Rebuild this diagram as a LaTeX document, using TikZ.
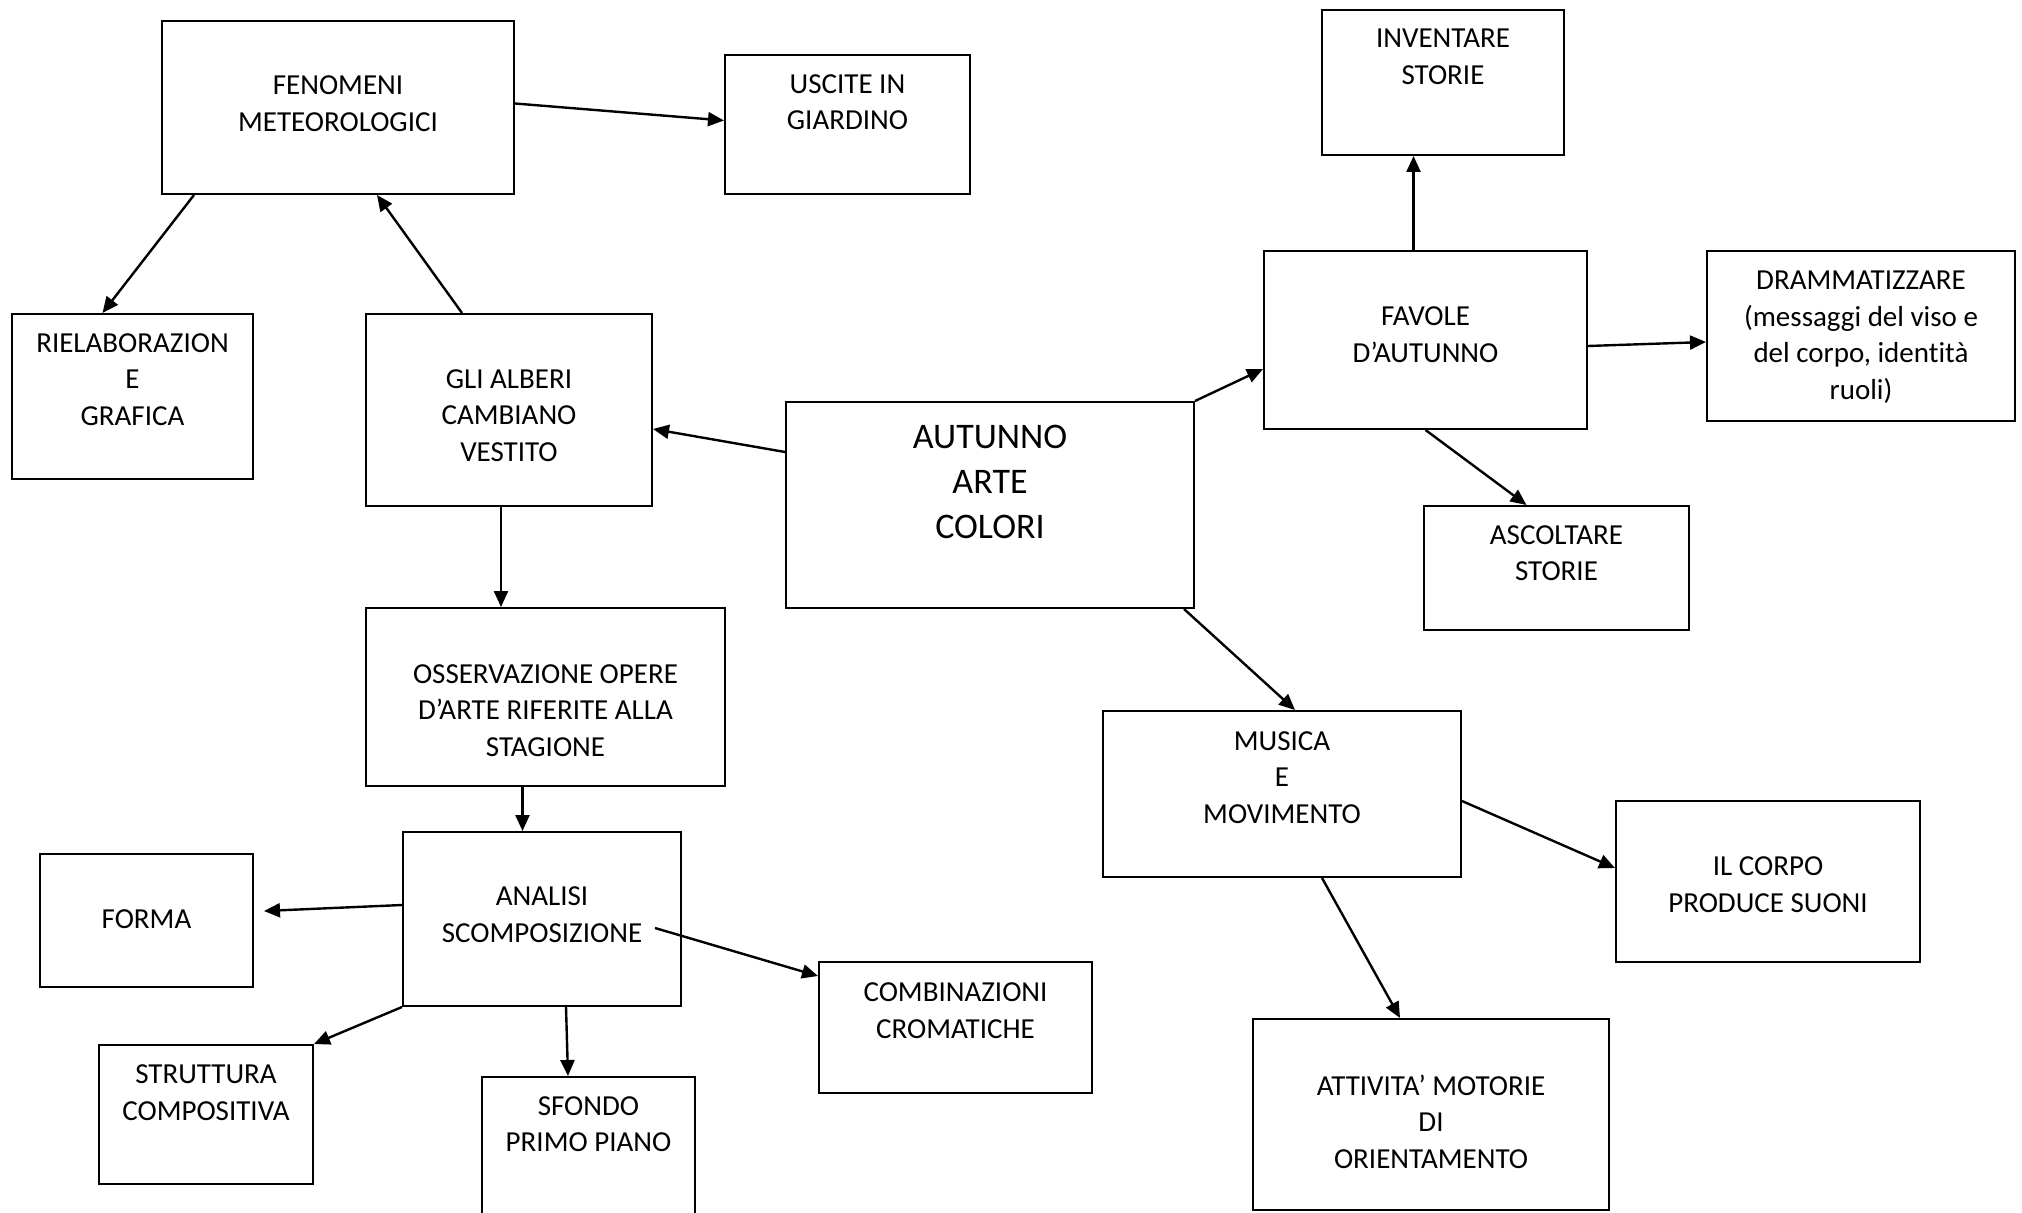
\documentclass[tikz,border=0pt]{standalone}
\usepackage{fontspec}
\setmainfont{Carlito}[Ligatures=NoCommon]
\usetikzlibrary{arrows.meta, positioning, fit}

\begin{document}
\begin{tikzpicture}[x=0.5pt, y=-0.5pt,
  box/.style={draw, line width=1pt, inner sep=0pt},
  txt/.style={align=center, inner sep=0pt, font=\fontsize{14.5}{18.25}\selectfont},
  arr/.style={-{Triangle[length=8pt, width=7pt]}, line width=1.2pt}]
\useasboundingbox[fill=white] (0,0) rectangle (2022,1213);

% Central topic
\node[box, fit={(786,402) (1194,608)}] (aut) {};
\node[txt, font=\fontsize{18}{22.5}\selectfont, below=12pt of aut.north] (autt) {AUTUNNO\\ARTE\\COLORI};

% Trees branch
\node[box, fit={(366,314) (652,506)}] (alb) {};
\node[txt, below=28pt of alb.north] (albt) {GLI ALBERI\\CAMBIANO\\VESTITO};
\node[box, fit={(162,21) (514,194)}] (fen) {};
\node[txt, below=27.8pt of fen.north] (fent) {FENOMENI\\METEOROLOGICI};
\node[box, fit={(725,55) (970,194)}] (usc) {};
\node[txt, below=10pt of usc.north] (usct) {USCITE IN\\GIARDINO};
\node[box, fit={(12,314) (253,479)}] (riel) {};
\node[txt, below=10pt of riel.north] (rielt) {RIELABORAZION\\E\\GRAFICA};

% Works of art
\node[box, fit={(366,608) (725,786)}] (oss) {};
\node[txt, below=28.5pt of oss.north] (osst) {OSSERVAZIONE OPERE\\D’ARTE RIFERITE ALLA\\STAGIONE};
\node[box, fit={(403,832) (681,1006)}] (ana) {};
\node[txt, below=27.8pt of ana.north] (anat) {ANALISI\\SCOMPOSIZIONE};
\node[box, fit={(40,854) (253,987)}] (forma) {};
\node[txt, below=28pt of forma.north] (format) {FORMA};
\node[box, fit={(99,1045) (313,1184)}] (strut) {};
\node[txt, below=10.3pt of strut.north] (strutt) {STRUTTURA\\COMPOSITIVA};
\node[box, fit={(482,1077) (695,1218)}] (sfo) {};
\node[txt, below=10pt of sfo.north] (sfot) {SFONDO\\PRIMO PIANO};
\node[box, fit={(819,962) (1092,1093)}] (comb) {};
\node[txt, below=10.8pt of comb.north] (combt) {COMBINAZIONI\\CROMATICHE};

% Tales
\node[box, fit={(1264,251) (1587,429)}] (fav) {};
\node[txt, below=28.3pt of fav.north] (favt) {FAVOLE\\D’AUTUNNO};
\node[box, fit={(1322,10) (1564,155)}] (inv) {};
\node[txt, below=10pt of inv.north] (invt) {INVENTARE\\STORIE};
\node[box, fit={(1707,251) (2015,421)}] (dram) {};
\node[txt, below=10.3pt of dram.north] (dramt) {DRAMMATIZZARE\\(messaggi del viso e\\del corpo, identità\\ruoli)};
\node[box, fit={(1424,506) (1689,630)}] (asc) {};
\node[txt, below=10pt of asc.north] (asct) {ASCOLTARE\\STORIE};

% Music
\node[box, fit={(1103,711) (1461,877)}] (mus) {};
\node[txt, below=10.6pt of mus.north] (must) {MUSICA\\E\\MOVIMENTO};
\node[box, fit={(1616,801) (1920,962)}] (corpo) {};
\node[txt, below=28.3pt of corpo.north] (corpot) {IL CORPO\\PRODUCE SUONI};
\node[box, fit={(1253,1019) (1609,1210)}] (att) {};
\node[txt, below=28.3pt of att.north] (attt) {ATTIVITA’ MOTORIE\\DI\\ORIENTAMENTO};

% Arrows
\draw[arr] ([yshift=26.5pt]aut.west) -- ([yshift=-9.5pt]alb.east);
\draw[arr] ([xshift=-23.5pt]alb.north) -- ([xshift=19.5pt]fen.south);
\draw[arr] ([yshift=2pt]fen.east) -- ([yshift=2pt]usc.west);
\draw[arr] ([xshift=16.5pt]fen.south west) -- ([xshift=-15pt]riel.north);
\draw[arr] ([xshift=-4pt]alb.south) -- ([xshift=-4pt]alb.south |- oss.north);
\draw[arr] ([xshift=-11.5pt]oss.south) -- ([xshift=-11.5pt]oss.south |- ana.north);
\draw[arr] ([yshift=7pt]ana.west) -- ([xshift=5pt, yshift=4.75pt]forma.east);
\draw[arr] ([xshift=56.5pt, yshift=-4.5pt]ana.center) -- ([yshift=-7.5pt]comb.north west);
\draw[arr] (ana.south west) -- (strut.north east);
\draw[arr] ([xshift=12pt]ana.south) -- ([xshift=-10.25pt]sfo.north);
\draw[arr] (aut.north east) -- ([yshift=-14.5pt]fav.west);
\draw[arr] ([xshift=-6pt]fav.north) -- ([xshift=-6pt]fav.north |- inv.south);
\draw[arr] ([yshift=-3pt]fav.east) -- ([yshift=-3pt]dram.west);
\draw[arr] (fav.south) -- ([xshift=-15pt]asc.north);
\draw[arr] ([xshift=-5.5pt]aut.south east) -- ([xshift=6.5pt]mus.north);
\draw[arr] ([yshift=-3.5pt]mus.east) -- ([yshift=6.75pt]corpo.west);
\draw[arr] ([xshift=20pt]mus.south) -- ([xshift=-15.5pt]att.north);
\end{tikzpicture}
\end{document}
